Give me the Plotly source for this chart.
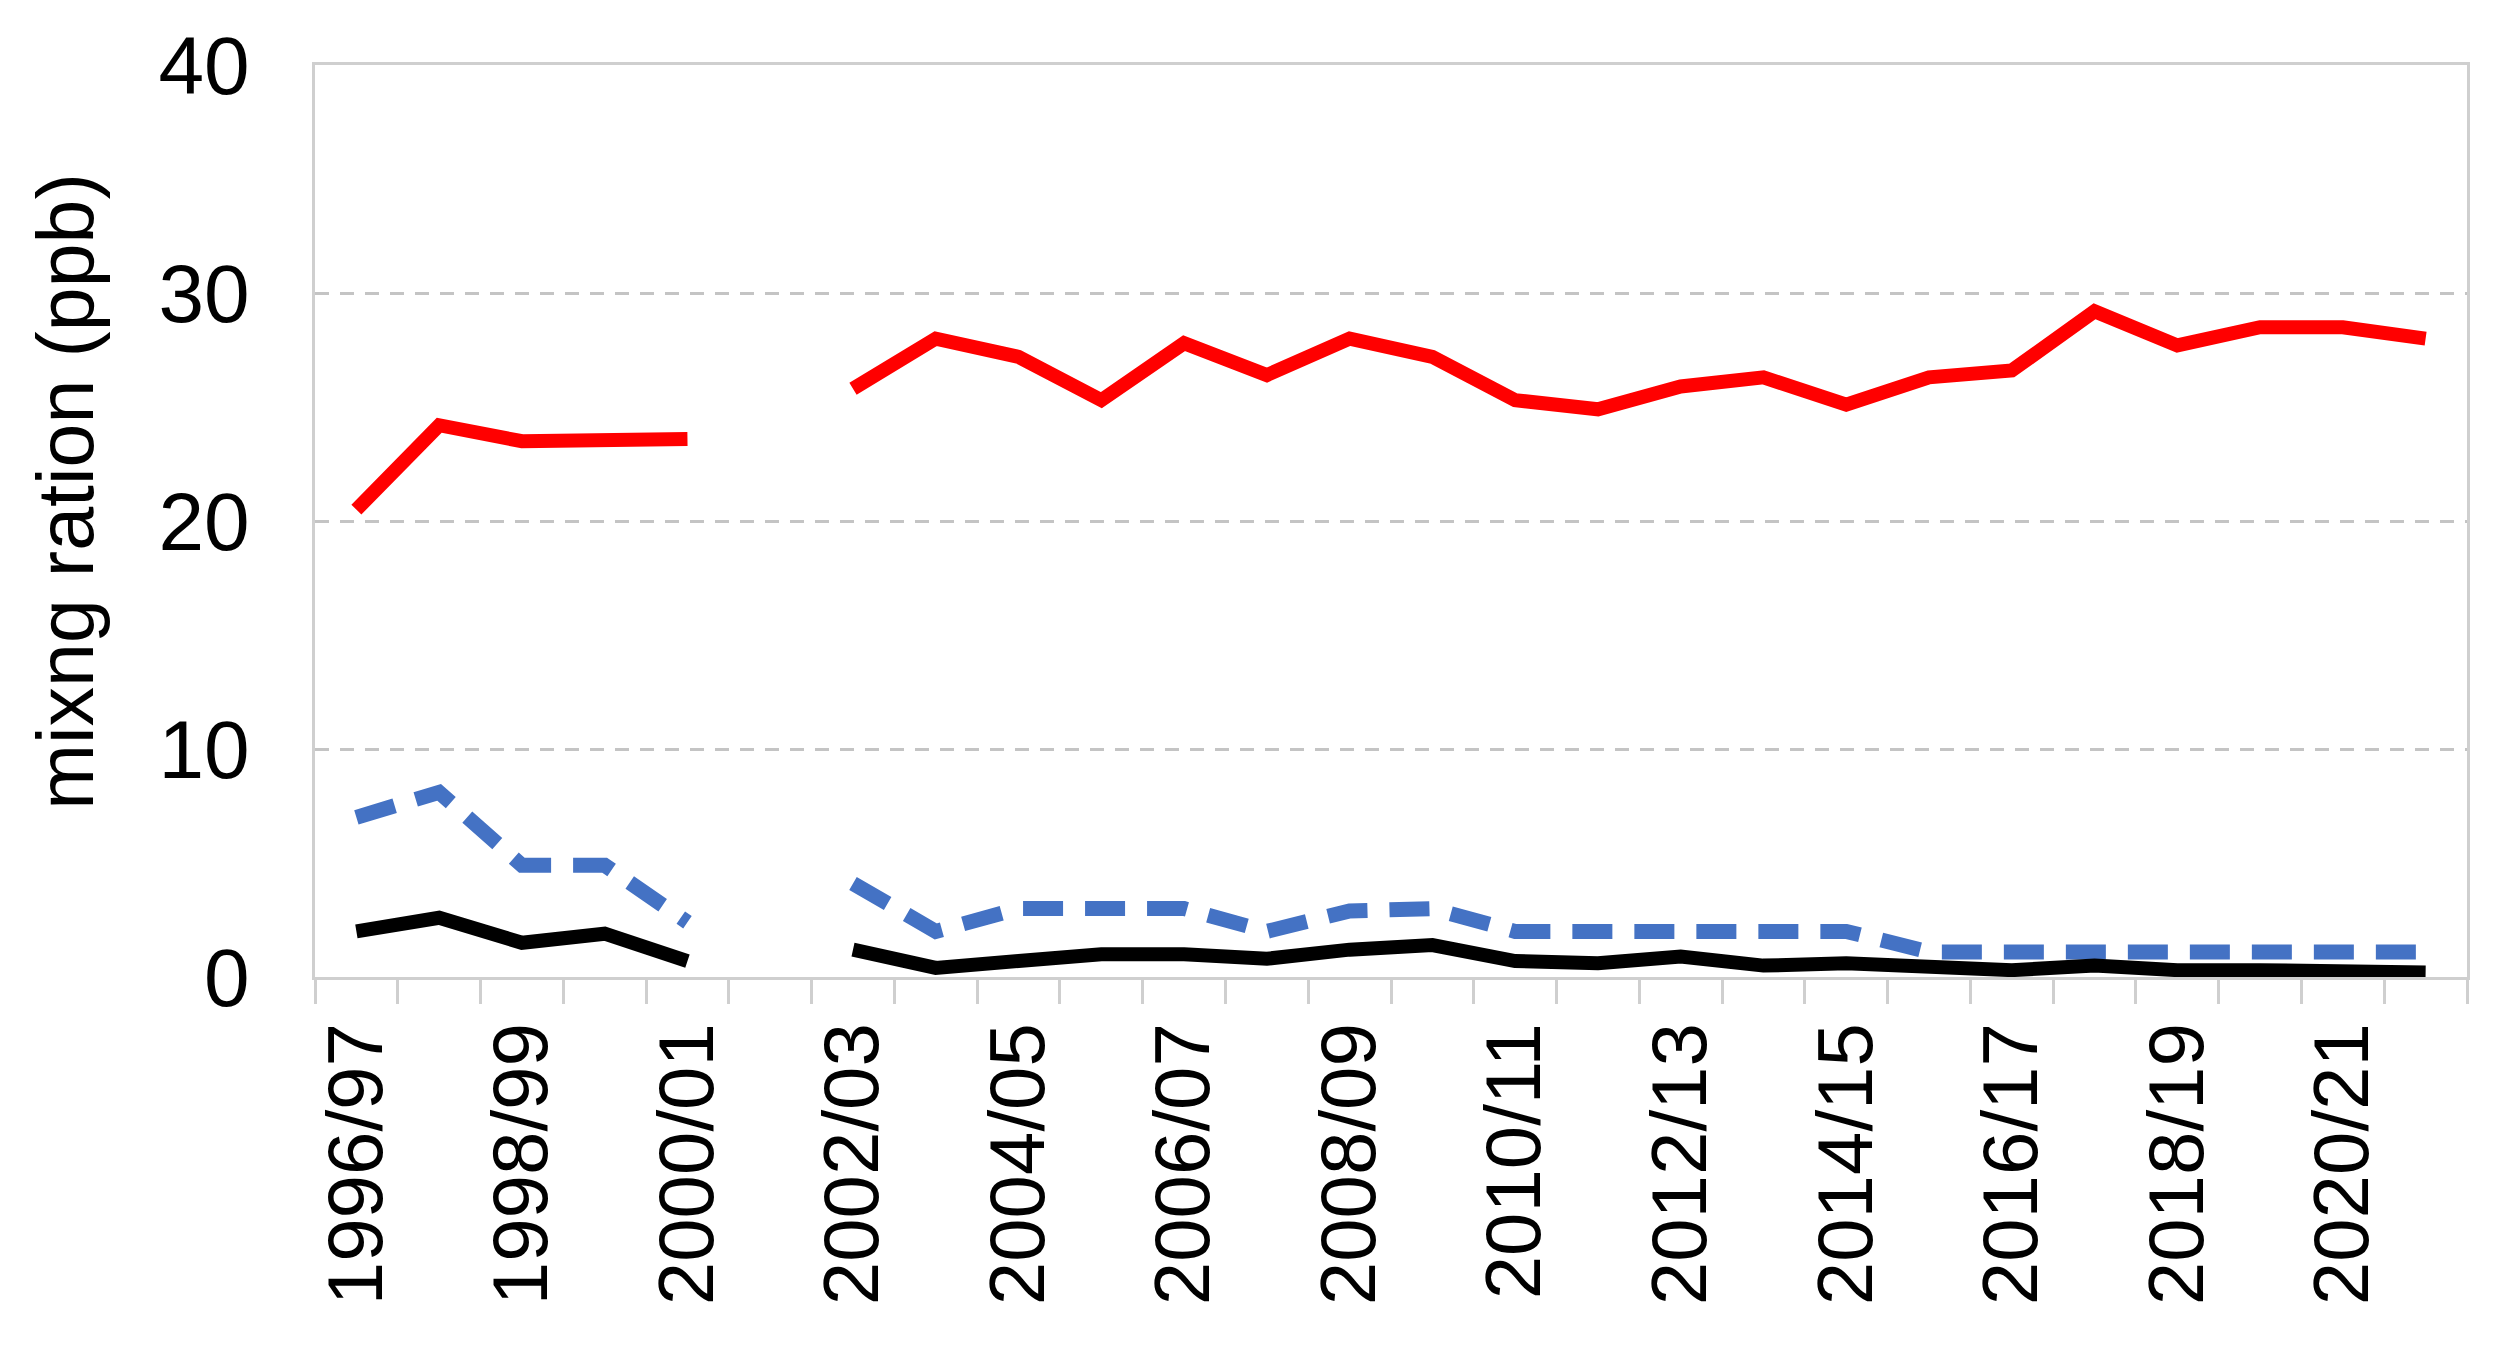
import plotly.graph_objects as go

# Season labels on the x axis (one category per season)
SEASONS = [
    "1996/97", "1997/98", "1998/99", "1999/00", "2000/01", "2001/02",
    "2002/03", "2003/04", "2004/05", "2005/06", "2006/07", "2007/08",
    "2008/09", "2009/10", "2010/11", "2011/12", "2012/13", "2013/14",
    "2014/15", "2015/16", "2016/17", "2017/18", "2018/19", "2019/20",
    "2020/21", "2021/22",
]

# mixing ratios (ppb), None = no data for that season
RED_SERIES = [20.5, 24.2, 23.5, 23.6, 23.6, None, 25.8, 28.0, 27.2, 25.3,
              27.8, 26.4, 28.0, 27.2, 25.3, 24.9, 25.9, 26.3, 25.1, 26.3,
              26.6, 29.2, 27.7, 28.5, 28.5, 28.0]
BLUE_SERIES = [7.0, 8.1, 4.9, 4.9, 2.4, None, 4.1, 2.0, 3.0, 3.0,
               3.0, 2.0, 2.9, 3.0, 2.0, 2.0, 2.0, 2.0, 2.0, 1.1,
               1.1, 1.1, 1.1, 1.1, 1.1, 1.1]
BLACK_SERIES = [2.0, 2.6, 1.5, 1.9, 0.7, None, 1.2, 0.4, 0.7, 1.0,
                1.0, 0.8, 1.2, 1.4, 0.7, 0.6, 0.9, 0.5, 0.6, 0.4,
                0.3, 0.5, 0.3, 0.3, 0.2, 0.2]

Y_TICKS = [0, 10, 20, 30, 40]
Y_TITLE = "mixng ration (ppb)"

FONT = "Liberation Sans, Arial, sans-serif"
AXIS_GRAY = "#CFCFCF"
GRID_GRAY = "#C4C4C4"

pos = list(range(len(SEASONS)))
label_pos = pos[::2]
label_text = SEASONS[::2]
boundaries = [p - 0.5 for p in pos] + [pos[-1] + 0.5]
x_range = [-0.5, len(SEASONS) - 0.5]

fig = go.Figure()
fig.add_trace(go.Scatter(x=pos, y=RED_SERIES, mode="lines",
                         line=dict(color="#FF0000", width=14),
                         connectgaps=False, showlegend=False))
fig.add_trace(go.Scatter(x=pos, y=BLUE_SERIES, mode="lines",
                         line=dict(color="#4472C4", width=15, dash="40px,22px"),
                         connectgaps=False, showlegend=False))
fig.add_trace(go.Scatter(x=pos, y=BLACK_SERIES, mode="lines",
                         line=dict(color="#000000", width=14),
                         connectgaps=False, showlegend=False))

# page body has an 8px margin, so the figure is a bit smaller than the window
fig.update_layout(
    width=2479,
    height=1334,
    margin=dict(l=307, r=20, t=52, b=365),
    paper_bgcolor="white",
    plot_bgcolor="white",
    font=dict(family=FONT, color="#000000"),
    xaxis=dict(
        range=x_range,
        tickmode="array",
        tickvals=label_pos,
        ticktext=label_text,
        tickangle=-90,
        ticks="",
        ticklabelstandoff=12,
        tickfont=dict(size=78),
        minor=dict(tickmode="array", tickvals=boundaries, ticks="outside",
                   ticklen=24, tickwidth=3, tickcolor=AXIS_GRAY),
        showgrid=False,
        zeroline=False,
        showline=True,
        linecolor=AXIS_GRAY,
        linewidth=3,
        mirror=True,
    ),
    xaxis2=dict(
        overlaying="x",
        anchor="y",
        range=x_range,
        tickmode="array",
        tickvals=boundaries,
        ticks="inside",
        ticklen=24,
        tickwidth=3,
        tickcolor=AXIS_GRAY,
        showticklabels=False,
        showgrid=False,
        zeroline=False,
        showline=False,
    ),
    yaxis=dict(
        range=[0, 40],
        tickmode="array",
        tickvals=Y_TICKS,
        ticks="",
        ticklabelstandoff=46,
        tickfont=dict(size=82),
        showgrid=True,
        gridcolor=GRID_GRAY,
        gridwidth=3,
        griddash="14px,11px",
        zeroline=False,
        showline=True,
        linecolor=AXIS_GRAY,
        linewidth=3,
        mirror=True,
    ),
    annotations=[
        dict(text=Y_TITLE, textangle=-90, xref="paper", yref="paper",
             x=0, y=0.532, xanchor="center", yanchor="middle", xshift=-249,
             showarrow=False, font=dict(size=79)),
    ],
)

fig.write_html("out.html")
